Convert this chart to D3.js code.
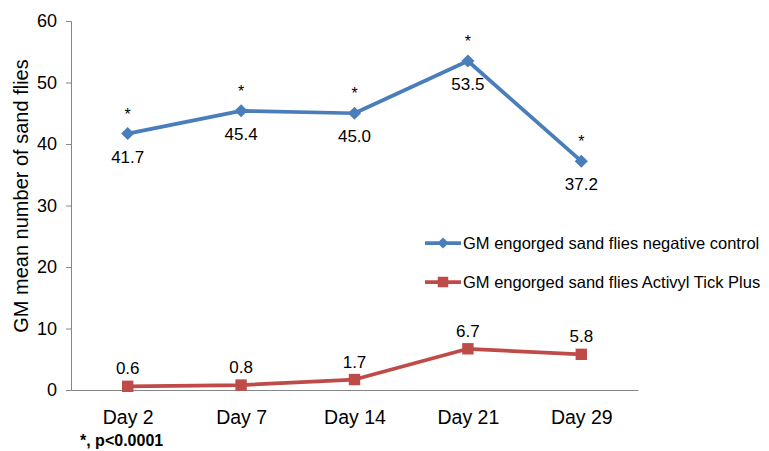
<!DOCTYPE html>
<html>
<head>
<meta charset="utf-8">
<script src="https://cdn.jsdelivr.net/npm/d3@7"></script>
<style>
  body { margin: 0; background: #fff; }
  text { font-family: "Liberation Sans", Arial, sans-serif; fill: #000; }
</style>
</head>
<body>
<div id="chart"></div>
<script>
const days = ['Day 2', 'Day 7', 'Day 14', 'Day 21', 'Day 29'];
const controlValues = [41.7, 45.4, 45.0, 53.5, 37.2];
const activylValues = [0.6, 0.8, 1.7, 6.7, 5.8];
const yTicks = [0, 10, 20, 30, 40, 50, 60];
const seriesNames = ['GM engorged sand flies negative control', 'GM engorged sand flies Activyl Tick Plus'];

const width = 769, height = 451;
const margin = { top: 21, right: 131, bottom: 61, left: 71 };
const innerW = width - margin.left - margin.right;
const innerH = height - margin.top - margin.bottom;

const blue = '#4a7ebb', red = '#be4b48';

const svg = d3.select('#chart')
    .append('svg')
    .attr('width', width)
    .attr('height', height);

const g = svg.append('g')
    .attr('transform', `translate(${margin.left}, ${margin.top})`);

const xScale = d3.scalePoint()
    .domain(days)
    .range([0, innerW])
    .padding(0.5);
const yScale = d3.scaleLinear()
    .domain([0, 60])
    .range([innerH, 0]);

// y axis
const yAxis = g.append('g')
    .call(d3.axisLeft(yScale).tickValues(yTicks).tickSize(5).tickPadding(9));
yAxis.select('.domain').attr('stroke', '#868686');
yAxis.selectAll('.tick line').attr('stroke', '#868686');
yAxis.selectAll('.tick text').style('font-size', '18px');

// x axis (no ticks)
const xAxis = g.append('g')
    .attr('transform', `translate(0, ${innerH})`)
    .call(d3.axisBottom(xScale).tickSize(0).tickPadding(20));
xAxis.select('.domain').attr('stroke', '#868686');
xAxis.selectAll('.tick text').style('font-size', '19.5px');

g.append('text')
    .attr('transform', `translate(${21 - margin.left}, ${196 - margin.top}) rotate(-90)`)
    .attr('text-anchor', 'middle')
    .attr('dy', '0.35em')
    .style('font-size', '20px')
    .text('GM mean number of sand flies');

const line = d3.line()
    .x((d, i) => xScale(days[i]))
    .y(d => yScale(d));

g.append('path')
    .datum(controlValues)
    .attr('fill', 'none')
    .attr('stroke', blue)
    .attr('stroke-width', 3.75)
    .attr('stroke-linejoin', 'round')
    .attr('d', line);

g.append('path')
    .datum(activylValues)
    .attr('fill', 'none')
    .attr('stroke', red)
    .attr('stroke-width', 3.75)
    .attr('stroke-linejoin', 'round')
    .attr('d', line);

const diamond = d3.symbol().type(d3.symbolDiamond2).size(110);
const square = d3.symbol().type(d3.symbolSquare).size(130);

g.selectAll('.pt-control')
    .data(controlValues)
    .enter()
    .append('path')
    .attr('class', 'pt-control')
    .attr('transform', (d, i) => `translate(${xScale(days[i])}, ${yScale(d)})`)
    .attr('fill', blue)
    .attr('d', diamond);

g.selectAll('.pt-activyl')
    .data(activylValues)
    .enter()
    .append('path')
    .attr('class', 'pt-activyl')
    .attr('transform', (d, i) => `translate(${xScale(days[i])}, ${yScale(d)})`)
    .attr('fill', red)
    .attr('d', square);

// value labels
g.selectAll('.lbl-control')
    .data(controlValues)
    .enter()
    .append('text')
    .attr('x', (d, i) => xScale(days[i]))
    .attr('y', d => yScale(d) + 29)
    .attr('text-anchor', 'middle')
    .style('font-size', '17px')
    .text(d => d.toFixed(1));

g.selectAll('.star')
    .data(controlValues)
    .enter()
    .append('text')
    .attr('x', (d, i) => xScale(days[i]))
    .attr('y', d => yScale(d) - 14)
    .attr('text-anchor', 'middle')
    .style('font-size', '16px')
    .text('*');

g.selectAll('.lbl-activyl')
    .data(activylValues)
    .enter()
    .append('text')
    .attr('x', (d, i) => xScale(days[i]))
    .attr('y', d => yScale(d) - 12)
    .attr('text-anchor', 'middle')
    .style('font-size', '17px')
    .text(d => d.toFixed(1));

// legend
const legend = svg.append('g').attr('transform', 'translate(425, 243)');
[blue, red].forEach((c, i) => {
    const row = legend.append('g').attr('transform', `translate(0, ${i * 39})`);
    row.append('line')
        .attr('x1', 0).attr('x2', 36)
        .attr('stroke', c)
        .attr('stroke-width', 3.75);
    row.append('path')
        .attr('transform', 'translate(18, 0)')
        .attr('fill', c)
        .attr('d', i === 0 ? d3.symbol().type(d3.symbolDiamond2).size(80)() : d3.symbol().type(d3.symbolSquare).size(110)());
    row.append('text')
        .attr('x', 38)
        .attr('dy', '0.35em')
        .style('font-size', '16.5px')
        .text(seriesNames[i]);
});

svg.append('text')
    .attr('x', 80)
    .attr('y', 446)
    .style('font-size', '16px')
    .style('font-weight', 'bold')
    .text('*, p<0.0001');
</script>
</body>
</html>
